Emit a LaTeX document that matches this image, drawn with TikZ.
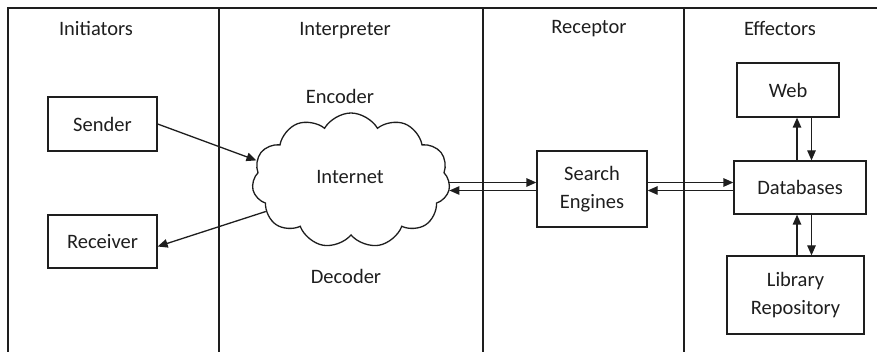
\documentclass[tikz,border=0pt]{standalone}
\usepackage{fontspec}
\setmainfont{Carlito}
\usetikzlibrary{arrows.meta,shapes.symbols}
\definecolor{ink}{HTML}{1E1E1E}
\begin{document}
\begin{tikzpicture}[x=1pt,y=-1pt,
  every node/.style={font=\fontsize{20.5}{28}\selectfont, text=ink},
  frame/.style={draw=ink, line width=1.3pt},
  box/.style={draw=ink, line width=1.3pt, rectangle, inner sep=0pt, align=center},
  label/.style={inner sep=0pt},
  arr/.style={draw=ink, line width=1.3pt, -{Triangle[length=10pt,width=8.5pt]}}]
\useasboundingbox (0,0) rectangle (877,352);
% frame and lane dividers
\coordinate (tl) at (8,8);
\coordinate (tr) at (878,8);
\coordinate (bl) at (8,353);
\draw[frame] (tr) -- (tl) -- (bl);
\foreach \x in {219,483,684} \draw[frame] (\x,8) -- (\x,353);
% titles
\node[label] (t1) at (96,28) {Initiators};
\node[label] (t2) at (345,31) {Interpreter};
\node[label] (t3) at (589,29) {Receptor};
\node[label] (t4) at (780,28) {Effectors};
% boxes
\node[box, minimum width=109pt, minimum height=54pt] (sender) at (102.5,124) {Sender};
\node[box, minimum width=109pt, minimum height=53pt] (receiver) at (102.5,241.5) {Receiver};
\node[box, minimum width=110pt, minimum height=76pt] (search) at (592,189) {Search\\Engines};
\node[box, minimum width=132pt, minimum height=53pt] (db) at (800,187.5) {Databases};
\node[box, minimum width=102pt, minimum height=54pt] (web) at (788,90) {Web};
\node[box, minimum width=137pt, minimum height=78pt] (lib) at (795.5,295) {Library\\Repository};
% cloud
\node[cloud, draw=ink, line width=1.3pt, cloud puffs=11, cloud puff arc=120, aspect=1.47,
      minimum width=198pt, minimum height=135pt, inner sep=0pt, shape border rotate=8] (cloud) at (351,180.5) {};
\node[label] (inet) at (350,177) {Internet};
\node[label] (enc) at (340,96) {Encoder};
\node[label] (dec) at (346,276) {Decoder};
% connectors
\draw[arr] (sender.east) -- (cloud.168);
\draw[arr] (cloud.200) -- ([yshift=-5pt]receiver.east);
\coordinate (rowA) at (0,182.5);
\coordinate (rowB) at (0,190.5);
\draw[arr] (cloud.east |- rowA) -- (search.west |- rowA);
\draw[arr] (search.west |- rowB) -- (cloud.east |- rowB);
\draw[arr] (search.east |- rowA) -- (db.west |- rowA);
\draw[arr] (db.west |- rowB) -- (search.east |- rowB);
\coordinate (colA) at (797,0);
\coordinate (colB) at (811.5,0);
\draw[arr] (colA |- db.north) -- (colA |- web.south);
\draw[arr] (colB |- web.south) -- (colB |- db.north);
\draw[arr] (colA |- lib.north) -- (colA |- db.south);
\draw[arr] (colB |- db.south) -- (colB |- lib.north);
\end{tikzpicture}
\end{document}
